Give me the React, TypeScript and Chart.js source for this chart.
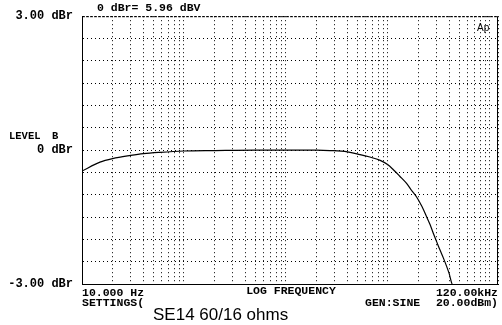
import React, { useEffect, useRef } from "react";
import { Chart, registerables } from "chart.js";

Chart.register(...registerables);

const freqs = [10, 15, 20, 30, 40, 58, 100, 200, 500, 1000, 2000, 2700, 4000, 5300, 6500, 8400, 10000, 11300, 13000, 15300, 17000, 19100, 21500, 24000, 26000, 27900, 30000, 32400, 35000, 37700, 40000, 42200, 42600];
const levels = [-0.47, -0.27, -0.19, -0.12, -0.08, -0.05, -0.02, -0.01, 0, 0, 0, -0.01, -0.04, -0.1, -0.15, -0.23, -0.33, -0.44, -0.58, -0.75, -0.9, -1.05, -1.26, -1.5, -1.68, -1.87, -2.05, -2.24, -2.42, -2.61, -2.78, -2.98, -3.0];

const xTicks = [10, 20, 30, 40, 50, 60, 70, 80, 90, 100, 200, 300, 400, 500, 600, 700, 800, 900, 1000, 2000, 3000, 4000, 5000, 6000, 7000, 8000, 9000, 10000, 20000, 30000, 40000, 50000, 60000, 70000, 80000, 90000, 100000, 120000];
const yLabels: Record<string, string> = { "3": "3.00 dBr", "0": "0 dBr", "-3": "-3.00 dBr" };

const MONO = "'Liberation Mono', 'DejaVu Sans Mono', monospace";

const textPlugin = {
  id: "apText",
  afterDraw(chart: any) {
    const { ctx, chartArea } = chart;
    const { left, right, top, bottom } = chartArea;
    ctx.save();
    ctx.strokeStyle = "#000";
    ctx.lineWidth = 1;
    ctx.setLineDash([]);
    ctx.beginPath();
    ctx.moveTo(right - 0.5, top);
    ctx.lineTo(right - 0.5, bottom);
    ctx.stroke();
    ctx.setLineDash([3, 1]);
    ctx.beginPath();
    ctx.moveTo(left, top + 0.5);
    ctx.lineTo(right, top + 0.5);
    ctx.stroke();
    ctx.setLineDash([]);

    ctx.fillStyle = "#000";
    ctx.textBaseline = "middle";
    ctx.font = `bold 11.5px ${MONO}`;
    ctx.textAlign = "left";
    ctx.fillText("0 dBr= 5.96 dBV", left + 15, 8);
    ctx.font = `bold 10.5px ${MONO}`;
    ctx.fillText("LEVEL", 9, 136);
    ctx.fillText("B", 52, 136);
    ctx.font = `bold 11.5px ${MONO}`;
    ctx.textAlign = "center";
    ctx.fillText("LOG FREQUENCY", 291, 291);
    ctx.textAlign = "left";
    ctx.fillText("SETTINGS(", left, 303);
    ctx.fillText("GEN:SINE", 365, 303);
    ctx.textAlign = "right";
    ctx.fillText("20.00dBm)", right, 303);
    ctx.font = "10px 'Liberation Sans', Arial, sans-serif";
    ctx.textAlign = "left";
    ctx.fillText("Ap", right - 21, 28);
    ctx.font = "17px 'Liberation Sans', Arial, sans-serif";
    ctx.textBaseline = "alphabetic";
    ctx.fillText("SE14 60/16 ohms", 153, 320);
    ctx.restore();
  },
};

export default function App() {
  const ref = useRef<HTMLCanvasElement>(null);
  useEffect(() => {
    document.body.style.margin = "0";
    document.body.style.background = "#fff";
    const chart = new Chart(ref.current!, {
      type: "line",
      data: {
        datasets: [
          {
            data: freqs.map((f, i) => ({ x: f, y: levels[i] })),
            borderColor: "#000",
            borderWidth: 1.2,
            pointRadius: 0,
            cubicInterpolationMode: "monotone",
            fill: false,
          },
        ],
      },
      options: {
        responsive: false,
        animation: false,
        layout: { padding: { top: 15, right: 4, left: 0, bottom: 0 } },
        plugins: { legend: { display: false }, tooltip: { enabled: false }, title: { display: false } },
        scales: {
          x: {
            type: "logarithmic",
            min: 10,
            max: 120000,
            afterBuildTicks: (scale: any) => {
              scale.ticks = xTicks.map((v) => ({ value: v }));
            },
            afterFit: (scale: any) => {
              scale.height = 41;
            },
            ticks: {
              autoSkip: false,
              maxRotation: 0,
              minRotation: 0,
              align: "inner",
              padding: 2,
              color: "#000",
              font: { family: MONO, size: 11.5, weight: "bold" },
              callback: (v: any) => (v === 10 ? "10.000 Hz" : v === 120000 ? "120.00kHz" : ""),
            },
            grid: { color: "#000", lineWidth: 1, drawTicks: false },
            border: { display: true, color: "#000", width: 1, dash: [1, 3] },
          },
          y: {
            min: -3,
            max: 3,
            afterFit: (scale: any) => {
              scale.width = 82;
            },
            ticks: {
              stepSize: 0.5,
              autoSkip: false,
              padding: 9,
              color: "#000",
              font: { family: MONO, size: 12, weight: "bold" },
              callback: (v: any) => yLabels[String(v)] ?? "",
            },
            grid: { color: "#000", lineWidth: 1, drawTicks: false },
            border: { display: true, color: "#000", width: 1, dash: [1, 3] },
          },
        },
      },
      plugins: [textPlugin],
    });
    return () => chart.destroy();
  }, []);
  return <canvas ref={ref} width={502} height={325} style={{ display: "block" }} />;
}
